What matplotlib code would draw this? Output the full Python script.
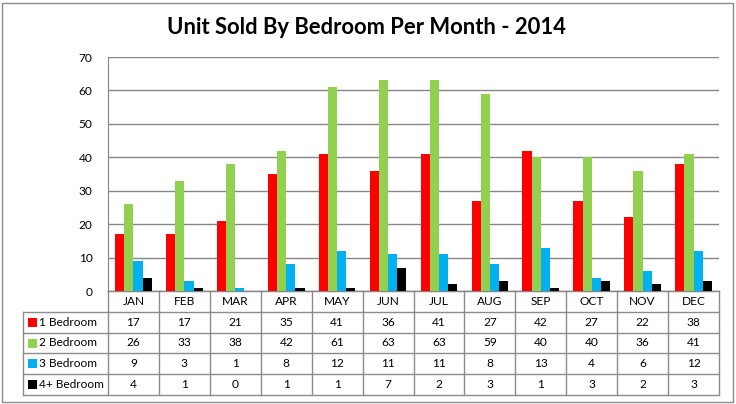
import matplotlib
matplotlib.use("Agg")
import matplotlib.pyplot as plt
import numpy as np
from matplotlib.transforms import blended_transform_factory
from matplotlib.patches import Rectangle

months = ["JAN", "FEB", "MAR", "APR", "MAY", "JUN", "JUL", "AUG", "SEP", "OCT", "NOV", "DEC"]
series_names = ["1 Bedroom", "2 Bedroom", "3 Bedroom", "4+ Bedroom"]
bed1 = [17, 17, 21, 35, 41, 36, 41, 27, 42, 27, 22, 38]
bed2 = [26, 33, 38, 42, 61, 63, 63, 59, 40, 40, 36, 41]
bed3 = [9, 3, 1, 8, 12, 11, 11, 8, 13, 4, 6, 12]
bed4 = [4, 1, 0, 1, 1, 7, 2, 3, 1, 3, 2, 3]
yticks = [0, 10, 20, 30, 40, 50, 60, 70]
title = "Unit Sold By Bedroom Per Month - 2014"

series = [bed1, bed2, bed3, bed4]
colors = ["#FF0000", "#92D050", "#00B0F0", "#000000"]
grid_c = "#868686"
FONT = ["Lato", "DejaVu Sans"]
plt.rcParams["font.family"] = FONT
FS = 8.6

W, H = 736, 404
fig = plt.figure(figsize=(W / 100, H / 100), dpi=100)
fig.patch.set_facecolor("white")
fig.patches.append(Rectangle((2 / W, 2 / H), 731 / W, 399 / H, transform=fig.transFigure,
                             fill=False, edgecolor="#8c8c8c", linewidth=1.0))

L, R, T, B = 108, 719, 57, 291
ax = fig.add_axes([L / W, (H - B) / H, (R - L) / W, (B - T) / H])
x = np.arange(len(months))
bw = 0.18
for i, (vals, c) in enumerate(zip(series, colors)):
    ax.bar(x + (i - 1.5) * bw, vals, width=bw, color=c, zorder=3)

ax.set_xlim(-0.5, len(months) - 0.5)
ax.set_ylim(0, 70)
ax.set_yticks(yticks)
ax.set_yticklabels([str(v) for v in yticks], fontsize=FS)
ax.tick_params(axis="y", length=0, pad=11)
ax.set_xticks([])
ax.grid(axis="y", color=grid_c, linewidth=1.0, zorder=0)
for s in ["top", "right"]:
    ax.spines[s].set_visible(False)
ax.spines["left"].set_color(grid_c)
ax.spines["bottom"].set_color(grid_c)

fig.text(366 / W, 1 - 27 / H, title, ha="center", va="center", fontsize=15.8, fontweight="bold")

# data table
tr = blended_transform_factory(ax.transData, ax.transAxes)
ph = B - T
def ay(py):
    return (B - py) / ph
rows_y = [291, 312, 333, 353, 374, 395]
lab_left = -0.5 - (L - 23) / ((R - L) / len(months))
tc = "#8c8c8c"
lw = 1.0
ax.plot([-0.5, 11.5], [ay(291)] * 2, color=tc, lw=lw, transform=tr, clip_on=False)
for py in rows_y[1:]:
    ax.plot([lab_left, 11.5], [ay(py)] * 2, color=tc, lw=lw, transform=tr, clip_on=False)
for k in range(len(months) + 1):
    ax.plot([k - 0.5] * 2, [ay(291), ay(395)], color=tc, lw=lw, transform=tr, clip_on=False)
ax.plot([lab_left] * 2, [ay(312), ay(395)], color=tc, lw=lw, transform=tr, clip_on=False)

for j, m in enumerate(months):
    ax.text(j, ay((291 + 312) / 2), m, transform=tr, ha="center", va="center", fontsize=FS)
for r, (name, vals, c) in enumerate(zip(series_names, series, colors)):
    yc = ay((rows_y[r + 1] + rows_y[r + 2]) / 2)
    for j, v in enumerate(vals):
        ax.text(j, yc, str(v), transform=tr, ha="center", va="center", fontsize=FS)
    fig.patches.append(Rectangle((28 / W, 1 - ((rows_y[r + 1] + rows_y[r + 2]) / 2 + 4.5) / H),
                                 9 / W, 9 / H, transform=fig.transFigure,
                                 facecolor=c, edgecolor="none"))
    fig.text(39 / W, 1 - (rows_y[r + 1] + rows_y[r + 2]) / 2 / H, name,
             ha="left", va="center", fontsize=FS)

fig.savefig("out.png", dpi=100)
